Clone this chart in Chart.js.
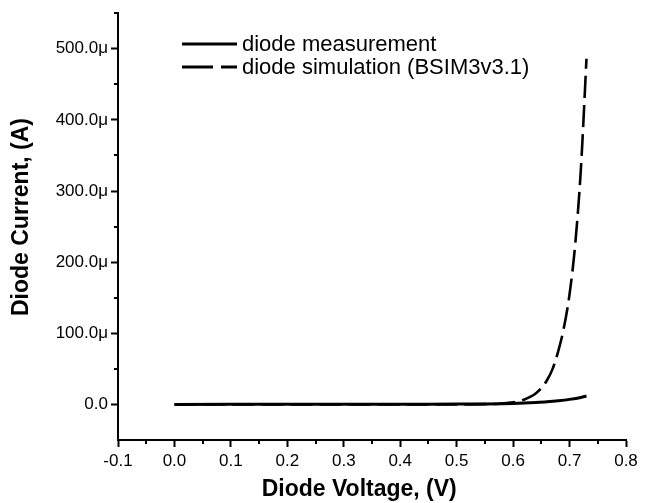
<!DOCTYPE html>
<html><head><meta charset="utf-8">
<script src="https://cdn.jsdelivr.net/npm/chart.js@4/dist/chart.umd.min.js"></script>
<style>html,body{margin:0;padding:0;background:#fff}#wrap{width:649px;height:503px}</style>
</head><body><div id="wrap"><canvas id="c" width="649" height="503"></canvas></div>
<script>
// Diode measurement (current in µA)
const measVoltage = [0, 0.1, 0.2, 0.3, 0.4, 0.45, 0.5, 0.55, 0.58, 0.6, 0.62, 0.64, 0.66, 0.68, 0.7, 0.72, 0.73];
const measCurrent = [0, 0.1, 0.2, 0.25, 0.3, 0.35, 0.45, 0.7, 1.0, 1.4, 2.0, 2.8, 3.8, 5.2, 7.1, 9.8, 11.8];
// Diode simulation BSIM3v3.1 (current in µA)
const simVoltage = [0, 0.1, 0.2, 0.3, 0.4, 0.5, 0.55, 0.575, 0.6, 0.61, 0.62, 0.63, 0.64, 0.65, 0.66, 0.67, 0.68, 0.69, 0.7, 0.71, 0.72, 0.73];
const simCurrent = [0, 0, 0, 0, 0, 0.1, 0.4, 1.0, 3.0, 4.5, 7, 10.5, 15.5, 23, 34, 50, 75, 108, 155, 225, 330, 486];
const seriesLabels = ['diode measurement', 'diode simulation (BSIM3v3.1)'];
const xTickValues = [-0.1, 0, 0.1, 0.2, 0.3, 0.4, 0.5, 0.6, 0.7, 0.8];
const xMinorValues = [-0.05, 0.05, 0.15, 0.25, 0.35, 0.45, 0.55, 0.65, 0.75];
const yTickValues = [0, 100, 200, 300, 400, 500];
const yMinorValues = [50, 150, 250, 350, 450, 550];

const FONT = "'Liberation Sans', Arial, Helvetica, sans-serif";

const pts = (xs, ys) => xs.map((x, i) => ({x: x, y: ys[i]}));

const minorTicks = {
  id: 'minorTicks',
  afterDraw(chart) {
    const ctx = chart.ctx, xs = chart.scales.x, ys = chart.scales.y;
    ctx.save();
    ctx.strokeStyle = '#000';
    ctx.lineWidth = 2;
    ctx.beginPath();
    xMinorValues.forEach(v => {
      const p = Math.round(xs.getPixelForValue(v));
      ctx.moveTo(p, xs.top); ctx.lineTo(p, xs.top + 4);
    });
    yMinorValues.forEach(v => {
      const p = Math.round(ys.getPixelForValue(v));
      ctx.moveTo(ys.right - 4, p); ctx.lineTo(ys.right, p);
    });
    ctx.stroke();
    ctx.restore();
  }
};

const insideLegend = {
  id: 'insideLegend',
  afterDraw(chart) {
    const ctx = chart.ctx;
    const x0 = 182, lineLen = 55, textX = 242;
    const rows = [44, 67];
    ctx.save();
    ctx.font = '22px ' + FONT;
    ctx.fillStyle = '#000';
    ctx.textBaseline = 'middle';
    chart.data.datasets.forEach((ds, i) => {
      const y = rows[i];
      ctx.strokeStyle = ds.borderColor;
      ctx.lineWidth = 3;
      ctx.setLineDash(i === 0 ? [] : [31, 8]);
      ctx.beginPath();
      ctx.moveTo(x0, y); ctx.lineTo(x0 + lineLen, y);
      ctx.stroke();
      ctx.setLineDash([]);
      ctx.fillText(ds.label, textX, y + 1);
    });
    ctx.restore();
  }
};

new Chart(document.getElementById('c'), {
  type: 'scatter',
  data: {
    datasets: [
      {
        label: seriesLabels[0],
        data: pts(measVoltage, measCurrent),
        showLine: true,
        borderColor: '#000',
        borderWidth: 3,
        pointRadius: 0,
        cubicInterpolationMode: 'monotone',
        order: 1
      },
      {
        label: seriesLabels[1],
        data: pts(simVoltage, simCurrent),
        showLine: true,
        borderColor: '#000',
        borderWidth: 2.6,
        borderDash: [22, 7],
        pointRadius: 0,
        cubicInterpolationMode: 'monotone',
        order: 2
      }
    ]
  },
  options: {
    responsive: false,
    animation: false,
    devicePixelRatio: 1,
    layout: { padding: { top: 13, right: 23, left: 0, bottom: 0 } },
    plugins: { legend: { display: false }, tooltip: { enabled: false } },
    scales: {
      x: {
        type: 'linear',
        min: -0.1, max: 0.8,
        afterBuildTicks: s => { s.ticks = xTickValues.map(v => ({value: v})); },
        afterFit: s => { s.height = 63; },
        ticks: {
          callback: v => v.toFixed(1),
          font: { family: FONT, size: 17 },
          color: '#000',
          padding: 4,
          maxRotation: 0,
          autoSkip: false
        },
        grid: { drawOnChartArea: false, drawTicks: true, tickLength: 7, tickColor: '#000', tickWidth: 2 },
        border: { display: true, color: '#000', width: 2 },
        title: { display: true, text: 'Diode Voltage, (V)    ', color: '#000', font: { family: FONT, size: 23, weight: 'bold' }, padding: { top: 0, bottom: 0 } }
      },
      y: {
        type: 'linear',
        min: -50, max: 550,
        afterBuildTicks: s => { s.ticks = yTickValues.map(v => ({value: v})); },
        afterFit: s => { s.width = 118; },
        ticks: {
          callback: v => v === 0 ? '0.0' : v.toFixed(1) + 'μ',
          font: { family: FONT, size: 17 },
          color: '#000',
          padding: 3,
          autoSkip: false
        },
        grid: { drawOnChartArea: false, drawTicks: true, tickLength: 7, tickColor: '#000', tickWidth: 2 },
        border: { display: true, color: '#000', width: 2 },
        title: { display: true, text: '   Diode Current, (A)', color: '#000', font: { family: FONT, size: 23, weight: 'bold' }, padding: { top: 8, bottom: 0 } }
      }
    }
  },
  plugins: [minorTicks, insideLegend]
});
</script>
</body></html>
